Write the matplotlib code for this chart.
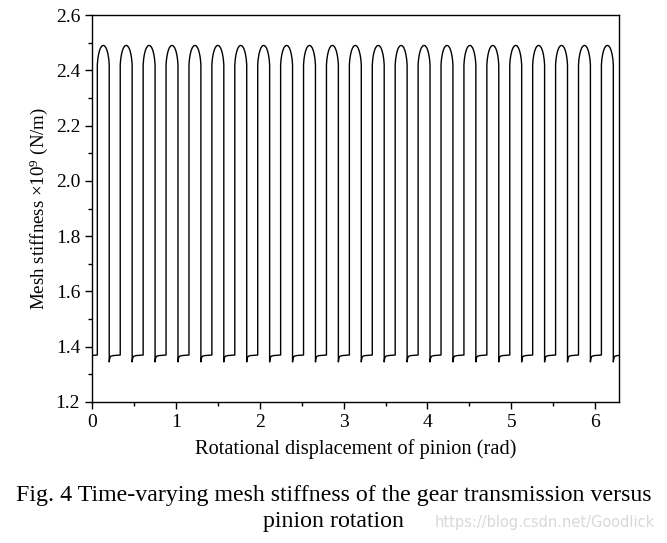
import numpy as np
import matplotlib.pyplot as plt

# one tooth-mesh period (phase as fraction of the period)
tooth_phase = [0.0, 0.0, 0.02, 0.05, 0.09, 0.14, 0.20, 0.26, 0.32, 0.38, 0.43, 0.47, 0.50, 0.52,
               0.52, 0.53, 0.545, 0.565, 0.60, 0.70, 0.85, 1.0]
tooth_stiffness = [1.370, 2.420, 2.440, 2.456, 2.470, 2.481, 2.488, 2.490, 2.488, 2.481, 2.470, 2.456, 2.440, 2.420,
                   1.345, 1.352, 1.359, 1.363, 1.366, 1.368, 1.369, 1.370]
n_teeth = 23
first_rise = 0.0635  # rad, where the first high plateau starts

x_ticks = [0, 1, 2, 3, 4, 5, 6]
y_ticks = [1.2, 1.4, 1.6, 1.8, 2.0, 2.2, 2.4, 2.6]

period = 2 * np.pi / n_teeth
x = []
y = []
for k in range(-1, n_teeth + 1):
    for p, s in zip(tooth_phase, tooth_stiffness):
        x.append(first_rise + (k + p) * period)
        y.append(s)

plt.rcParams['font.family'] = ['Liberation Serif', 'DejaVu Serif']
plt.rcParams['mathtext.fontset'] = 'custom'
plt.rcParams['mathtext.rm'] = 'Liberation Serif'
plt.rcParams['mathtext.it'] = 'Liberation Serif:italic'

fig = plt.figure(figsize=(6.67, 5.43), dpi=100)
ax = fig.add_axes([92 / 667, 141 / 543, 527 / 667, 387 / 543])
ax.plot(x, y, color='black', linewidth=1.0)

ax.set_xlim(0, 2 * np.pi)
ax.set_ylim(1.2, 2.6)
ax.set_xticks(x_ticks)
ax.set_xticks(np.arange(0.5, 6.5, 1.0), minor=True)
ax.set_yticks(y_ticks)
ax.set_yticks(np.arange(1.3, 2.6, 0.2), minor=True)
ax.set_yticklabels(['%.1f' % v for v in y_ticks])
ax.tick_params(which='major', direction='out', length=5, width=1, labelsize=14, top=False, right=False)
ax.tick_params(which='minor', direction='out', length=3, width=1, top=False, right=False)
for sp in ax.spines.values():
    sp.set_linewidth(1.0)

ax.set_xlabel('Rotational displacement of pinion (rad)', fontsize=14.7, labelpad=6)
ax.set_ylabel(r'Mesh stiffness $\mathrm{\times10^{9}}$ (N/m)', fontsize=13.6, labelpad=4)

fig.text(0.5, 1 - 495 / 543, 'Fig. 4 Time-varying mesh stiffness of the gear transmission versus',
         ha='center', va='center', fontsize=17.2)
fig.text(0.5, 1 - 521 / 543, 'pinion rotation', ha='center', va='center', fontsize=17.2)
fig.text(655 / 667, 1 - 523 / 543, 'https://blog.csdn.net/Goodlick', ha='right', va='center',
         fontsize=10.5, color='#d8d8d8', family='DejaVu Sans')

fig.savefig('out.png', dpi=100)
